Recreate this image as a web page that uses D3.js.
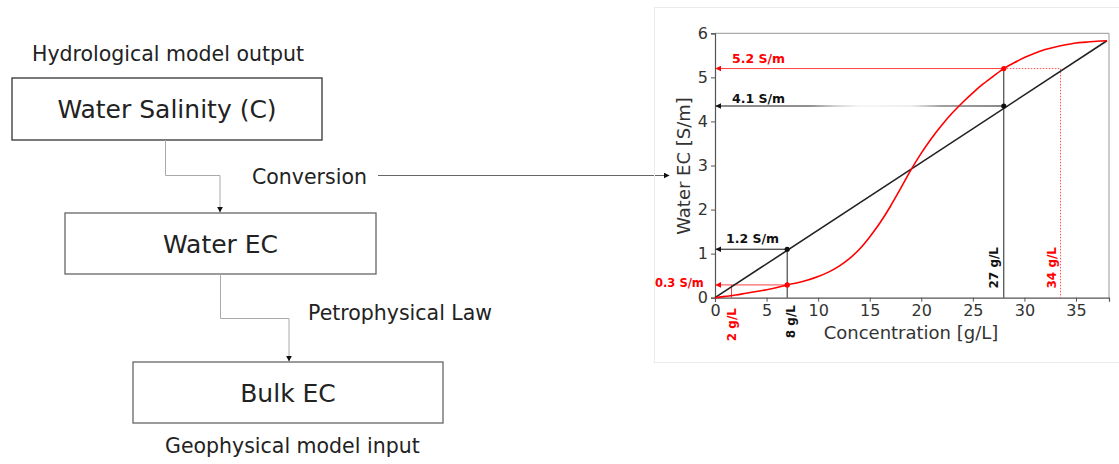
<!DOCTYPE html>
<html>
<head>
<meta charset="utf-8">
<script src="https://cdn.jsdelivr.net/npm/d3@7"></script>
<style>
  body { margin: 0; background: #fff; }
  svg text { font-family: "DejaVu Sans", Verdana, sans-serif; }
</style>
</head>
<body>
<div id="my_dataviz"></div>
<script>
// curve data
var concentration = [0,1,2,3,4,5,6,7,8,9,10,11,12,13,14,15,16,17,18,19,
                     20,21,22,23,24,25,26,27,28,29,30,31,32,33,34,35,36,37,38];
var ecSigmoid = [0,0.03,0.06,0.10,0.14,0.18,0.23,0.29,0.34,0.40,0.48,0.58,0.71,0.88,1.10,1.38,1.70,2.07,2.48,2.90,
                 3.28,3.62,3.92,4.19,4.43,4.65,4.85,5.03,5.20,5.33,5.45,5.55,5.63,5.69,5.74,5.78,5.80,5.82,5.83];
var linearConc = [0, 38];
var ecLinear = [0, 5.83];

var xTicks = [0, 5, 10, 15, 20, 25, 30, 35];
var yTicks = [0, 1, 2, 3, 4, 5, 6];

// annotations
var ecReadings = [
  {c: 28, ec: 5.2, label: "5.2 S/m", color: "red"},
  {c: 28, ec: 4.35, label: "4.1 S/m", color: "black"},
  {c: 7, ec: 1.1, label: "1.2 S/m", color: "black"},
  {c: 7, ec: 0.29, label: "0.3 S/m", color: "red"}
];
var concReadings = [
  {c: 1.6, label: "2 g/L", color: "red"},
  {c: 7.3, label: "8 g/L", color: "black"},
  {c: 27, label: "27 g/L", color: "black"},
  {c: 32.6, label: "34 g/L", color: "red"}
];

var svg = d3.select("#my_dataviz")
  .append("svg")
  .attr("width", 1119)
  .attr("height", 464);

var defs = svg.append("defs");
function marker(id, color) {
  defs.append("marker")
    .attr("id", id)
    .attr("viewBox", "0 0 10 10")
    .attr("refX", 9).attr("refY", 5)
    .attr("markerWidth", 6).attr("markerHeight", 6)
    .attr("markerUnits", "userSpaceOnUse")
    .attr("orient", "auto-start-reverse")
    .append("path")
    .attr("d", "M0,0 L10,5 L0,10 z")
    .attr("fill", color);
}
marker("arrBlack", "#111");
marker("arrRed", "red");

// ---------- flow chart on the left ----------
var textCol = "#222";
function label(x, y, txt, size, anchor) {
  svg.append("text")
    .attr("x", x).attr("y", y)
    .attr("text-anchor", anchor || "start")
    .style("font-size", size + "px")
    .style("fill", textCol)
    .text(txt);
}
function box(x, y, w, h, txt, stroke) {
  svg.append("rect")
    .attr("x", x).attr("y", y).attr("width", w).attr("height", h)
    .attr("fill", "#fff")
    .attr("stroke", stroke)
    .attr("stroke-width", 1.3);
  label(x + w / 2, y + h / 2 + 9, txt, 25, "middle");
}

label(32, 61, "Hydrological model output", 20.5);
box(12, 78, 310, 62, "Water Salinity (C)", "#333");
box(65, 213, 311, 61, "Water EC", "#666");
box(133, 362, 310, 61, "Bulk EC", "#666");
label(165, 453, "Geophysical model input", 20.5);

label(252, 184, "Conversion", 20.5);
label(308, 320, "Petrophysical Law", 20.5);

var connector = d3.line();
svg.append("path")
  .attr("d", connector([[165.5, 140], [165.5, 175.5], [220, 175.5], [220, 212]]))
  .attr("fill", "none").attr("stroke", "#aaa").attr("stroke-width", 1)
  .attr("marker-end", "url(#arrBlack)");
svg.append("path")
  .attr("d", connector([[220.5, 274], [220.5, 318.5], [289, 318.5], [289, 361]]))
  .attr("fill", "none").attr("stroke", "#aaa").attr("stroke-width", 1)
  .attr("marker-end", "url(#arrBlack)");
svg.append("path")
  .attr("d", connector([[378, 175.5], [669, 175.5]]))
  .attr("fill", "none").attr("stroke", "#666").attr("stroke-width", 1)
  .attr("marker-end", "url(#arrBlack)");

// ---------- chart panel on the right ----------
svg.append("rect")
  .attr("x", 654.5).attr("y", 7.5).attr("width", 480).attr("height", 355)
  .attr("fill", "none").attr("stroke", "#ebebeb");

var x = d3.scaleLinear().domain([0, 38.2]).range([715, 1109]);
var y = d3.scaleLinear().domain([0, 6]).range([297.7, 33.3]);

// top / right spines
svg.append("line").attr("x1", 715).attr("x2", 1109).attr("y1", 33.3).attr("y2", 33.3)
  .attr("stroke", "#aaa").attr("stroke-width", 1.2);
svg.append("line").attr("x1", 1109).attr("x2", 1109).attr("y1", 33.3).attr("y2", 297.7)
  .attr("stroke", "#aaa").attr("stroke-width", 1.2);

var xAxis = svg.append("g")
  .attr("transform", "translate(0,297.7)")
  .call(d3.axisBottom(x).tickValues(xTicks).tickFormat(d3.format("d")).tickSize(4).tickPadding(3));
var yAxis = svg.append("g")
  .attr("transform", "translate(715,0)")
  .call(d3.axisLeft(y).tickValues(yTicks).tickFormat(d3.format("d")).tickSize(4).tickPadding(3));
[xAxis, yAxis].forEach(function (a) {
  a.select(".domain").attr("stroke", "#555").attr("stroke-width", 1.2);
  a.selectAll(".tick line").attr("stroke", "#555");
  a.selectAll(".tick text")
    .style("font-size", "16px")
    .style("font-family", "'DejaVu Sans', sans-serif")
    .style("fill", "#333");
});

svg.append("text")
  .attr("x", 911).attr("y", 339)
  .attr("text-anchor", "middle")
  .style("font-size", "18px").style("fill", "#333")
  .text("Concentration [g/L]");
svg.append("text")
  .attr("transform", "translate(690,166) rotate(-90)")
  .attr("text-anchor", "middle")
  .style("font-size", "18px").style("fill", "#333")
  .text("Water EC [S/m]");

// fading stroke for the 4.1 S/m guide
var grad = defs.append("linearGradient")
  .attr("id", "fade").attr("gradientUnits", "userSpaceOnUse")
  .attr("x1", x(0)).attr("x2", x(28)).attr("y1", 0).attr("y2", 0);
[[0, "#111"], [0.33, "#222"], [0.42, "#aaa"], [0.5, "#eee"], [0.68, "#ddd"], [0.78, "#444"], [1, "#111"]]
  .forEach(function (s) { grad.append("stop").attr("offset", s[0]).attr("stop-color", s[1]); });

// guide lines
function guide(pts, color, dash, width, arrow) {
  var p = svg.append("path")
    .attr("d", d3.line()(pts))
    .attr("fill", "none")
    .attr("stroke", color)
    .attr("stroke-width", width || 1);
  if (dash) p.attr("stroke-dasharray", dash);
  if (arrow) p.attr("marker-start", "url(#" + arrow + ")");
}
// 5.2 S/m (red curve at 28 g/L) and its 34 g/L counterpart on the line
guide([[x(0) + 1, y(5.2)], [x(28), y(5.2)]], "#ff4040", null, 1, "arrRed");
guide([[x(28), y(5.2)], [x(33.5), y(5.2)], [x(33.5), y(0)]], "#ff5050", "1.5,1.5", 1);
guide([[x(28), y(5.2)], [x(28), y(0)]], "#222", null, 1);
// 4.1 S/m (line at 28 g/L)
guide([[x(0) + 1, y(4.35)], [x(28), y(4.35)]], "url(#fade)", null, 1, "arrBlack");
// 1.2 S/m (line at 7 g/L)
guide([[x(0) + 1, y(1.1)], [x(7), y(1.1)]], "#111", null, 1, "arrBlack");
guide([[x(7), y(1.1)], [x(7), y(0)]], "#222", null, 1);
// 0.3 S/m (red curve at 7 g/L) and 2 g/L on the line
guide([[x(0) + 1, y(0.29)], [x(7), y(0.29)]], "#ff4040", null, 1, "arrRed");
guide([[x(1.6), y(0.29)], [x(1.6), y(0)]], "#ff4040", null, 1);

// curves
var line = d3.line()
  .x(function (d) { return x(d[0]); })
  .y(function (d) { return y(d[1]); })
  .curve(d3.curveMonotoneX);
svg.append("path")
  .datum(d3.zip(linearConc, ecLinear))
  .attr("d", line)
  .attr("fill", "none").attr("stroke", "#222").attr("stroke-width", 1.6);
svg.append("path")
  .datum(d3.zip(concentration, ecSigmoid))
  .attr("d", line)
  .attr("fill", "none").attr("stroke", "red").attr("stroke-width", 1.6);

// dots
svg.append("g").selectAll("circle")
  .data(ecReadings)
  .enter()
  .append("circle")
  .attr("cx", function (d) { return x(d.c); })
  .attr("cy", function (d) { return y(d.ec); })
  .attr("r", 2.6)
  .attr("fill", function (d) { return d.color === "red" ? "red" : "#111"; });

// EC labels
var ecLabelPos = [[732, 62.5], [732, 102.5], [726, 242.5], [655, 286.5]];
svg.append("g").selectAll("text")
  .data(ecReadings)
  .enter()
  .append("text")
  .attr("x", function (d, i) { return ecLabelPos[i][0]; })
  .attr("y", function (d, i) { return ecLabelPos[i][1]; })
  .style("font-size", function (d, i) { return i === 3 ? "11.5px" : "12.5px"; })
  .style("font-weight", "bold")
  .style("fill", function (d) { return d.color === "red" ? "red" : "#111"; })
  .text(function (d) { return d.label; });

// concentration labels (rotated)
var concLabelTop = [308, 305, 247, 247];
svg.append("g").selectAll("text")
  .data(concReadings)
  .enter()
  .append("text")
  .attr("transform", function (d, i) {
    return "translate(" + (x(d.c) + 4.5) + "," + concLabelTop[i] + ") rotate(-90)";
  })
  .attr("text-anchor", "end")
  .style("font-size", "12px").style("font-weight", "bold")
  .style("fill", function (d) { return d.color === "red" ? "red" : "#111"; })
  .text(function (d) { return d.label; });
</script>
</body>
</html>
